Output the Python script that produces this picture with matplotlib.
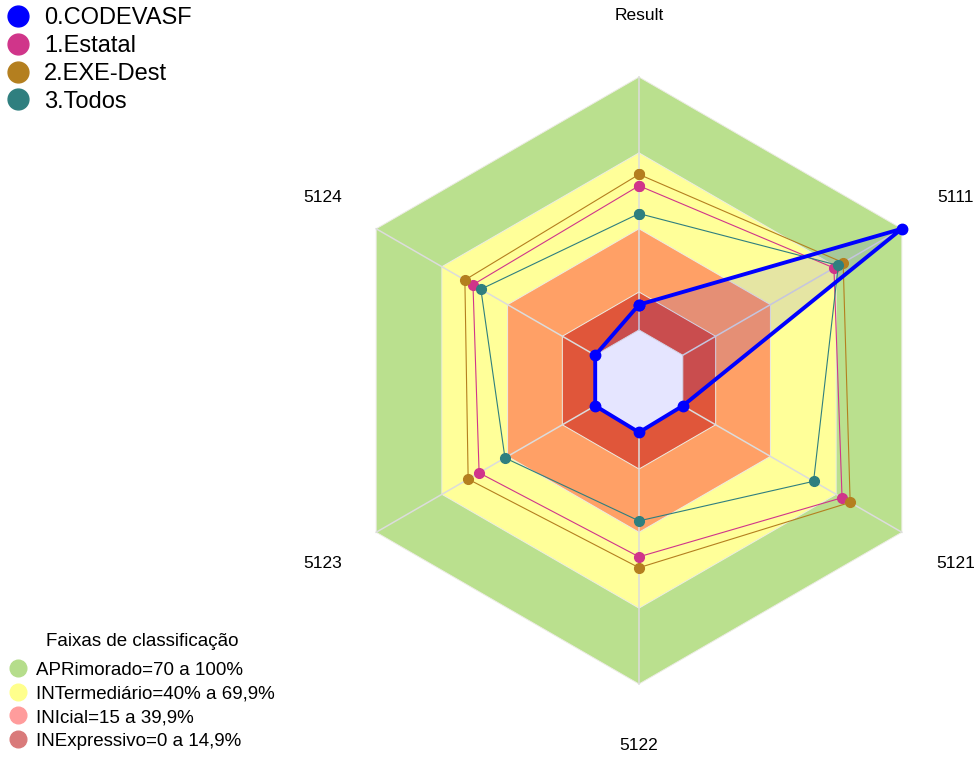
import numpy as np
import matplotlib.pyplot as plt
from matplotlib.lines import Line2D

plt.rcParams['font.family'] = ['Liberation Sans', 'DejaVu Sans']

categories = ["Result", "5111", "5121", "5122", "5123", "5124"]
series_names = ["0.CODEVASF", "1.Estatal", "2.EXE-Dest", "3.Todos"]
codevasf = [10, 100, 0, 0.5, 0, 0]
estatal = [57, 69, 72.7, 49.7, 53, 55.8]
exe_dest = [61.5, 73.2, 76.4, 54, 58, 59.5]
todos = [46, 71, 59.7, 35.5, 41.2, 52.2]
series_colors = ["#0000FF", "#D0358A", "#B47F1F", "#2F7F7F"]

band_levels = [100, 70, 40, 15, 0]
band_fill = ["#BAE08E", "#FFFF99", "#FFA066", "#E0563A", "white"]
band_title = "Faixas de classificação"
band_labels = ["APRimorado=70 a 100%", "INTermediário=40% a 69,9%",
               "INIcial=15 a 39,9%", "INExpressivo=0 a 14,9%"]
band_legend_colors = ["#B5DD8B", "#FFFF8C", "#FF9C9C", "#D97A7A"]

r_min, r_max = -20, 100

theta = np.linspace(0, 2 * np.pi, len(categories), endpoint=False)
theta_c = np.append(theta, theta[0])


def closed(vals):
    return list(vals) + [vals[0]]


fig = plt.figure(figsize=(9.77, 7.58), dpi=100)
ax = fig.add_axes([0.3434, 0.0976, 0.6213, 0.8008], projection='polar')
ax.set_theta_zero_location('N')
ax.set_theta_direction(-1)
ax.set_ylim(r_min, r_max)
ax.grid(False)
ax.set_xticks([])
ax.set_yticks([])
ax.spines['polar'].set_visible(False)
ax.patch.set_visible(False)

# classification bands
for lvl, col in zip(band_levels, band_fill):
    ax.fill(theta_c, [lvl] * len(theta_c), color=col, lw=0, zorder=1)
for lvl in band_levels:
    ax.plot(theta_c, [lvl] * len(theta_c), color="#ECECE4", lw=0.7, zorder=2, clip_on=False)
for t in theta:
    ax.plot([t, t], [0, r_max], color="#DCDCDC", lw=1.1, zorder=2, clip_on=False)

# series
others = [(estatal, series_colors[1]), (exe_dest, series_colors[2]), (todos, series_colors[3])]
for vals, col in others:
    ax.plot(theta_c, closed(vals), color=col, lw=0.8, marker='o', markersize=7,
            zorder=4, clip_on=False)

ax.fill(theta_c, closed(codevasf), color=series_colors[0], alpha=0.1, lw=0, zorder=3)
ax.plot(theta_c, closed(codevasf), color=series_colors[0], lw=2.8, marker='o',
        markersize=7.5, zorder=5, clip_on=False)

for t, name in zip(theta, categories):
    ax.text(t, 124.5, name, ha='center', va='center', fontsize=12.5)

# legends
h1 = [Line2D([], [], ls='none', marker='o', markersize=15, color=c) for c in series_colors]
fig.legend(h1, series_names, loc='upper left', bbox_to_anchor=(-0.008, 1.0094),
           frameon=False, fontsize=17, handlelength=1.0, handletextpad=0.6,
           labelspacing=0.25, borderaxespad=0.2)

h2 = [Line2D([], [], ls='none', marker='o', markersize=12, color=c,
             markeredgecolor=c) for c in band_legend_colors]
fig.legend(h2, band_labels, loc='lower left',
           bbox_to_anchor=(0.002, 0.0013), frameon=False, fontsize=13.5,
           handlelength=0.9, handletextpad=0.5,
           labelspacing=0.34, borderaxespad=0.0)
fig.text(142 / 977, 1 - 641 / 758, band_title, ha='center', va='center', fontsize=13.5)

fig.savefig("out.png", dpi=100)
